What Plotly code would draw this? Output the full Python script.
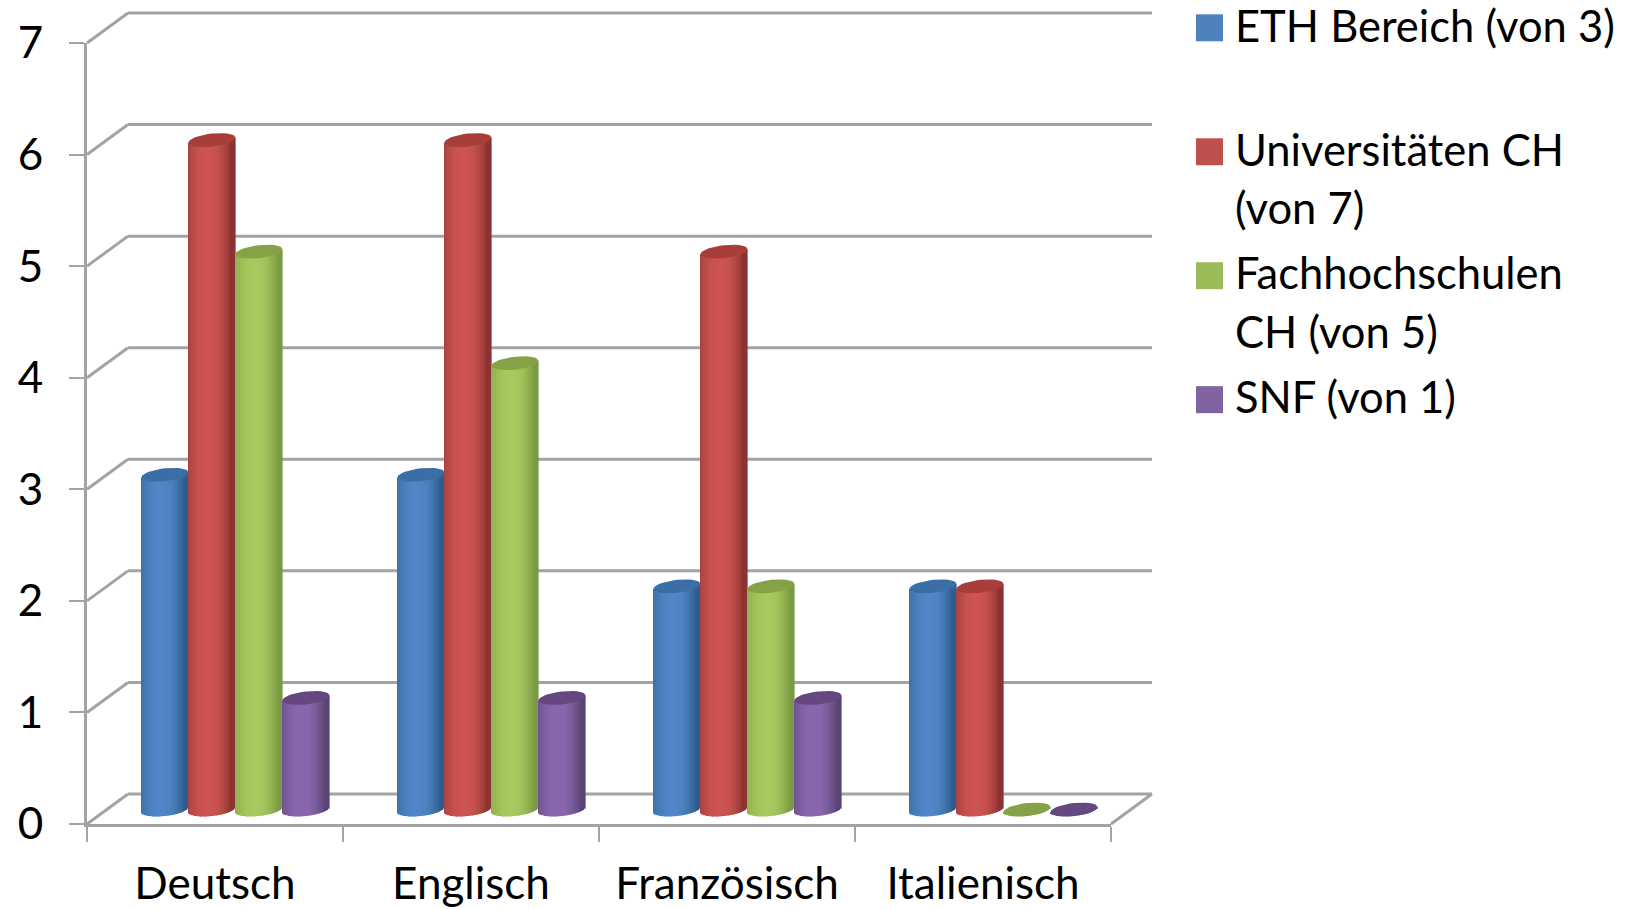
import math
import plotly.graph_objects as go

# ---- data ----
categories = ["Deutsch", "Englisch", "Französisch", "Italienisch"]
eth = [3, 3, 2, 2]
uni = [6, 6, 5, 2]
fh = [5, 4, 2, 0]
snf = [1, 1, 1, 0]
y_ticks = [0, 1, 2, 3, 4, 5, 6, 7]

# ---- page geometry and style ----
W, H = 1636, 909
L, R, T, B = 87, 1111, 42.7, 824
PX_X = (R - L) / 4          # px per category
PX_Y = (B - T) / 7          # px per value unit
DEPTH_X, DEPTH_Y = 41, 30   # back wall offset, px
GRID = "#a3a3a3"
FONT = "Lato, Carlito, sans-serif"
TEXT = "#000000"
FS = 44
FS_LEGEND = 43.5

series = [
    dict(vals=eth, base="#4F86C6", edge="#2E5E8E", top="#3A6EA5"),
    dict(vals=uni, base="#CD5452", edge="#8C3230", top="#A83D3B"),
    dict(vals=fh, base="#A7C95E", edge="#7C9A44", top="#85A346"),
    dict(vals=snf, base="#8A66AF", edge="#5A4474", top="#64487F"),
]
legend_items = [
    ("#4F81BD", 27.5, [("ETH Bereich (von 3)", 25)]),
    ("#C0504D", 151.5, [("Universitäten CH", 149), ("(von 7)", 207)]),
    ("#9BBB59", 275.5, [("Fachhochschulen", 272), ("CH (von 5)", 331)]),
    ("#8064A2", 399.5, [("SNF (von 1)", 396)]),
]

BAR_W = 47        # px
GROUP_SHIFT = 20.5  # px to the right of the category centre
FLOOR = 14.5      # px the bars stand behind the front edge
RY, TILT = 6.5, 2.5
N = 30


def hex2rgb(h):
    return [int(h[i:i + 2], 16) for i in (1, 3, 5)]


def mix(a, b, t):
    a, b = hex2rgb(a), hex2rgb(b)
    return "rgb(%d,%d,%d)" % tuple(round(x + (y - x) * t) for x, y in zip(a, b))


def px_x(px):
    return (px - L) / (R - L)


def px_y(px):
    return (B - px) / (B - T)


fig = go.Figure()

# shaded cylinders: every bar is cut in narrow upright strips
for i, s in enumerate(series):
    xs, ys, bases, cols = [], [], [], []
    for c, v in enumerate(s["vals"]):
        cx = c + (GROUP_SHIFT + (i - 1.5) * BAR_W) / PX_X
        for k in range(N):
            u = -1 + (2 * k + 1) / N
            xs.append(cx + u * BAR_W / 2 / PX_X)
            centre = FLOOR / PX_Y
            bottom = centre + (-RY * math.sqrt(max(0, 1 - u * u)) + TILT * u) / PX_Y
            top = v + centre + TILT * u / PX_Y
            bases.append(bottom)
            ys.append(top - bottom)
            shade = min(1, abs(u + 0.12) ** 2.2 * (0.75 if u < 0 else 1.1))
            cols.append(mix(s["base"], s["edge"], shade))
    fig.add_trace(go.Bar(x=xs, y=ys, base=bases, width=(BAR_W / PX_X) / N * 1.15,
                         marker=dict(color=cols, line=dict(width=0)),
                         showlegend=False, hoverinfo="skip", cliponaxis=False))

# cylinder caps
for i, s in enumerate(series):
    ex, ey = [], []
    for c, v in enumerate(s["vals"]):
        cx = c + (GROUP_SHIFT + (i - 1.5) * BAR_W) / PX_X
        for a in range(0, 361, 10):
            t = math.radians(a)
            ex.append(cx + (BAR_W / 2) * math.cos(t) / PX_X)
            ey.append(v + (FLOOR + RY * math.sin(t) + TILT * math.cos(t)) / PX_Y)
        ex.append(None)
        ey.append(None)
    fig.add_trace(go.Scatter(x=ex, y=ey, mode="lines", fill="toself", fillcolor=s["top"],
                             line=dict(width=0, color=s["top"]), showlegend=False,
                             hoverinfo="skip", cliponaxis=False))

shapes = []


def line(x0, y0, x1, y1):
    shapes.append(dict(type="line", xref="paper", yref="paper", layer="below",
                       x0=px_x(x0), y0=px_y(y0), x1=px_x(x1), y1=px_y(y1),
                       line=dict(color=GRID, width=3)))


# back wall grid, side wall diagonals and floor edge
for v in y_ticks:
    yf = B - v * PX_Y
    line(L, yf, L + DEPTH_X, yf - DEPTH_Y)
    line(L + DEPTH_X, yf - DEPTH_Y, R + DEPTH_X, yf - DEPTH_Y)
line(R, B, R + DEPTH_X, B - DEPTH_Y)

annotations = []
for color, cy, lines in legend_items:
    shapes.append(dict(type="rect", xref="paper", yref="paper", layer="above",
                       x0=px_x(1196), x1=px_x(1223), y0=px_y(cy - 13.5), y1=px_y(cy + 13.5),
                       fillcolor=color, line=dict(width=0)))
    for text, ty in lines:
        annotations.append(dict(text=text, xref="paper", yref="paper", x=px_x(1233), y=px_y(ty),
                                xanchor="left", yanchor="middle", showarrow=False,
                                font=dict(family=FONT, size=FS_LEGEND, color=TEXT)))

fig.update_layout(
    width=W, height=H, autosize=False,
    paper_bgcolor="white", plot_bgcolor="rgba(0,0,0,0)",
    margin=dict(l=L, r=W - R, t=T, b=H - B, pad=0, autoexpand=False),
    barmode="overlay", showlegend=False, shapes=shapes, annotations=annotations,
    xaxis=dict(range=[-0.5, 3.5], tickmode="array", tickvals=list(range(4)), ticktext=categories,
               ticks="", showgrid=False, zeroline=False, showline=True, linecolor=GRID, linewidth=3,
               ticklabelstandoff=19, tickfont=dict(family=FONT, size=FS, color=TEXT),
               minor=dict(tickmode="array", tickvals=[-0.5, 0.5, 1.5, 2.5, 3.5], ticks="outside",
                          ticklen=15, tickwidth=2, tickcolor=GRID, showgrid=False)),
    yaxis=dict(range=[0, 7], tickmode="array", tickvals=y_ticks, ticks="outside", ticklen=15,
               tickwidth=2, tickcolor=GRID, showgrid=False, zeroline=False, showline=True,
               linecolor=GRID, linewidth=3, ticklabelstandoff=17,
               tickfont=dict(family=FONT, size=FS, color=TEXT)),
)

fig.write_html("out.html", config=dict(displayModeBar=False),
               post_script="document.body.style.margin='0';document.body.style.overflow='hidden';")
